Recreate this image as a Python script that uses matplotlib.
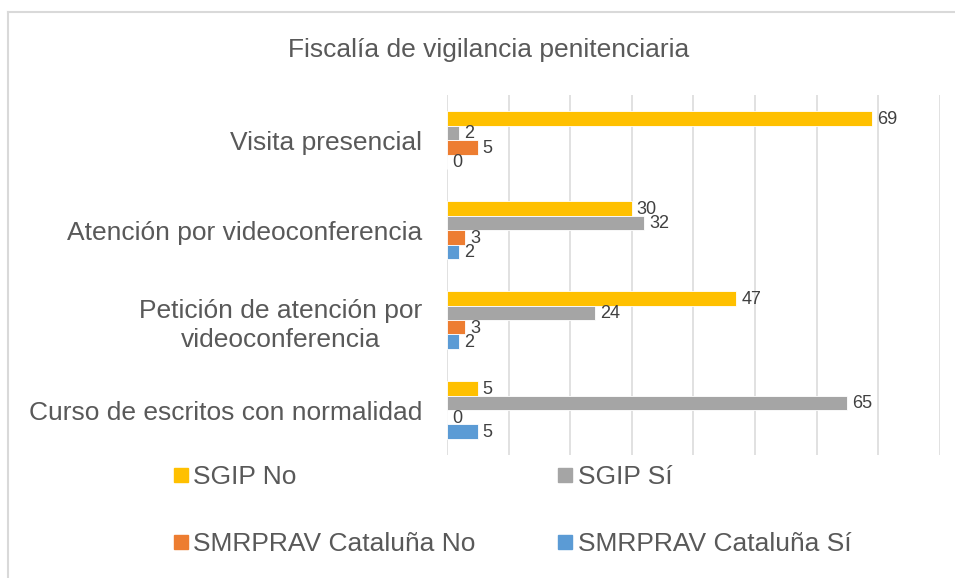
import numpy as np
import matplotlib
matplotlib.use("Agg")
from matplotlib import pyplot as plt
from matplotlib.lines import Line2D

plt.rcParams["font.family"] = ["Liberation Sans", "DejaVu Sans"]

# data
categories = ["Visita presencial",
              "Atención por videoconferencia",
              "Petición de atención por\nvideoconferencia",
              "Curso de escritos con normalidad"]
series_names = ["SGIP No", "SGIP Sí", "SMRPRAV Cataluña No", "SMRPRAV Cataluña Sí"]
sgip_no = [69, 30, 47, 5]
sgip_si = [2, 32, 24, 65]
smrprav_no = [5, 3, 3, 0]
smrprav_si = [0, 2, 2, 5]
title = "Fiscalía de vigilancia penitenciaria"

colors = ["#FFC000", "#A5A5A5", "#ED7D31", "#5B9BD5"]
text_col = "#595959"
label_col = "#404040"

fig = plt.figure(figsize=(9.55, 5.78), dpi=100)
ax = fig.add_axes([0.468, 0.2128, 0.516, 0.6228])

y = np.arange(len(categories))
h = 0.161
all_series = [sgip_no, sgip_si, smrprav_no, smrprav_si]
for i, (vals, c) in enumerate(zip(all_series, colors)):
    pos = y + (i - 1.5) * h
    ax.barh(pos, vals, height=h, color=c, edgecolor="white", linewidth=0.6, zorder=3)
    for yy, v in zip(pos, vals):
        ax.annotate(str(v), xy=(v, yy), xytext=(5, -1), textcoords="offset pixels",
                    va="center", ha="left", fontsize=13, color=label_col, zorder=4)

ax.set_xlim(0, 80)
ax.set_ylim(3.5, -0.5)
ax.set_xticks(np.arange(0, 81, 10))
ax.set_xticklabels([])
ax.tick_params(axis="x", length=0)
ax.grid(axis="x", color="#d9d9d9", linewidth=1.1, zorder=0)
ax.set_yticks(y)
ax.set_yticklabels(categories, fontsize=19, color=text_col)
ax.tick_params(axis="y", length=0, pad=18)
for lab in ax.get_yticklabels():
    lab.set_multialignment("center")
    lab.set_linespacing(1.3)
for s in ax.spines.values():
    s.set_visible(False)

fig.text(489 / 955, 1 - 50 / 578, title, ha="center", va="center", fontsize=19, color=text_col)

# legend filled row by row like the original
order = [0, 2, 1, 3]
handles = [Line2D([], [], marker="s", ls="", color=colors[k], markersize=9.4) for k in order]
labels = [series_names[k] for k in order]
fig.legend(handles, labels, loc="upper left", bbox_to_anchor=(174 / 955, 1 - 465 / 578),
           ncol=2, frameon=False, fontsize=19, labelcolor=text_col, borderpad=0,
           borderaxespad=0, handlelength=0.5, handletextpad=0.23, labelspacing=1.64,
           columnspacing=3.15)

# chart border (only left and top visible)
fig.add_artist(Line2D([8 / 955, 8 / 955], [0, 1 - 12 / 578], transform=fig.transFigure,
                      color="#d9d9d9", linewidth=1.5))
fig.add_artist(Line2D([8 / 955, 1], [1 - 12 / 578, 1 - 12 / 578], transform=fig.transFigure,
                      color="#d9d9d9", linewidth=1.5))

fig.savefig("out.png", dpi=100)
